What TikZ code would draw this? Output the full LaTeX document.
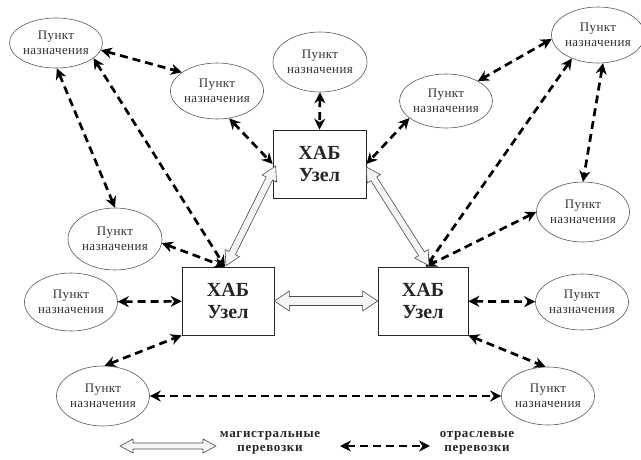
\documentclass[tikz,border=0pt]{standalone}
\usepackage{fontspec}
\setmainfont{Liberation Serif}
\newfontfamily\legfont[LetterSpace=5]{Liberation Serif}
\newfontfamily\destfont[LetterSpace=3]{Liberation Serif}
\usetikzlibrary{arrows.meta,calc,shapes.geometric}

\tikzset{
  dest/.style={ellipse, draw=black!65, line width=0.6pt, inner sep=0pt, align=center,
    font=\fontsize{13}{15}\destfont, text=black!80},
  hub/.style={rectangle, draw=black!85, line width=0.7pt, fill=white, minimum height=68pt,
    align=center, font=\fontsize{20}{22}\selectfont\bfseries, text=black!85},
  dart/.style={line width=2.7pt, dash pattern=on 8pt off 5pt,
    {Stealth[length=11pt,width=11pt]}-{Stealth[length=11pt,width=11pt]}},
  hollow/.style={draw=black!70, line width=0.6pt, fill=black!4, line join=miter},
  legtext/.style={align=center, font=\fontsize{13}{14}\legfont\bfseries, text=black!85}
}

% #1 from, #2 to, #3 prefix, #4 head length, #5 head half width, #6 shaft half width
\newcommand\hollowarrow[6]{%
  \coordinate (#3s) at ($(#1)!#4!(#2)$);
  \coordinate (#3e) at ($(#2)!#4!(#1)$);
  \draw[hollow] (#1) -- ($(#3s)!#5!90:(#2)$) -- ($(#3s)!#6!90:(#2)$)
    -- ($(#3e)!#6!90:(#2)$) -- ($(#3e)!#5!90:(#2)$) -- (#2)
    -- ($(#3e)!#5!-90:(#2)$) -- ($(#3e)!#6!-90:(#2)$)
    -- ($(#3s)!#6!-90:(#2)$) -- ($(#3s)!#5!-90:(#2)$) -- cycle;
}

\begin{document}
\begin{tikzpicture}[x=1pt,y=-1pt]
\useasboundingbox[fill=white] (0,0) rectangle (641,459);

% destination points
\node[dest, minimum width=91pt, minimum height=50pt] (e1) at (56,43) {Пункт\\назначения};
\node[dest, minimum width=92pt, minimum height=56pt] (e2) at (217,91) {Пункт\\назначения};
\node[dest, minimum width=94pt, minimum height=60pt] (e3) at (320,62) {Пункт\\назначения};
\node[dest, minimum width=92pt, minimum height=54pt] (e4) at (446,101) {Пункт\\назначения};
\node[dest, minimum width=86pt, minimum height=56pt] (e5) at (598,35) {Пункт\\назначения};
\node[dest, minimum width=92pt, minimum height=60pt] (e6) at (583,212) {Пункт\\назначения};
\node[dest, minimum width=94pt, minimum height=62pt] (e7) at (115,239) {Пункт\\назначения};
\node[dest, minimum width=92pt, minimum height=58pt] (e8) at (71,302) {Пункт\\назначения};
\node[dest, minimum width=92pt, minimum height=60pt] (e9) at (103,396) {Пункт\\назначения};
\node[dest, minimum width=92pt, minimum height=56pt] (e10) at (582,302) {Пункт\\назначения};
\node[dest, minimum width=92pt, minimum height=58pt] (e11) at (548,396) {Пункт\\назначения};

% hubs
\node[hub, minimum width=93pt] (T) at (319.5,164) {ХАБ\\Узел};
\node[hub, minimum width=92pt] (L) at (228,301) {ХАБ\\Узел};
\node[hub, minimum width=90pt] (R) at (423,301) {ХАБ\\Узел};

\coordinate (Ltop) at ($(L.north)+(-3,0)$);
\coordinate (Rtop) at ($(R.north)+(3,0)$);

% branch transport
\draw[dart] (e1.-9) -- (e2.152);
\draw[dart] (e1.-88) -- (e7.north);
\draw[dart] (e1.-22) -- (Ltop);
\draw[dart] (e2.-66) -- (T.west);
\draw[dart] (e3.south) -- (T.north);
\draw[dart] (e4.-155) -- (T.east);
\draw[dart] (e5.185) -- (e4.32);
\draw[dart] (e5.-138) -- (Rtop);
\draw[dart] (e5.-80) -- (e6.north);
\draw[dart] (e6.west) -- (Rtop);
\draw[dart] (e7.-5) -- (Ltop);
\draw[dart] (e8) -- (L);
\draw[dart] (e9.87) -- (L.south west);
\draw[dart] (e9) -- (e11);
\draw[dart] (R) -- (e10);
\draw[dart] (R.south east) -- (e11.95);

% trunk transport
\coordinate (TLa) at ($(T.west)+(3,2)$);
\coordinate (LTa) at ($(L.north)+(-2,-1)$);
\coordinate (TRa) at ($(T.east)+(0,3)$);
\coordinate (RTa) at ($(R.north)+(6,-1)$);
\hollowarrow{LTa}{TLa}{ha}{14pt}{8pt}{3.5pt}
\hollowarrow{RTa}{TRa}{hb}{14pt}{8pt}{3.5pt}
\hollowarrow{L.east}{R.west}{hc}{15pt}{10pt}{4.5pt}

% legend
\coordinate (lg1) at (120,446);
\coordinate (lg2) at (216,446);
\coordinate (lg3) at (340,446);
\coordinate (lg4) at (430,446);
\hollowarrow{lg1}{lg2}{hd}{13pt}{7pt}{3pt}
\node[legtext] (lt1) at (270,443) {магистральные\\перевозки};
\draw[dart] (lg3) -- (lg4);
\node[legtext] (lt2) at (477,443) {отраслевые\\перевозки};
\end{tikzpicture}
\end{document}
